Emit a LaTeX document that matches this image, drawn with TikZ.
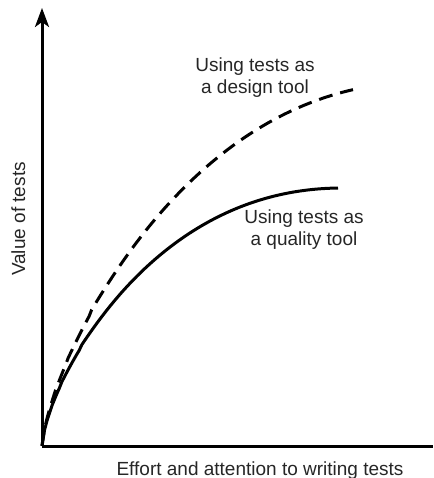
\documentclass[tikz,border=0pt]{standalone}
\usepackage{fontspec}
\setmainfont{Liberation Sans}
\usetikzlibrary{arrows.meta,positioning}

\begin{document}
\begin{tikzpicture}[x=1pt,y=1pt,
						every node/.style = {font=\fontsize{19}{22}\selectfont, text=black!85, inner sep=0pt},
						axis/.style = {line width=3pt},
						curve/.style = {line width=3pt, samples=120},
						declare function = {
							design(\x) = 364*sin(90*(\x/380)^0.7);
							quality(\x) = 258*sin(90*(\x/300)^0.68);
						}]

					\useasboundingbox (-42,-32) rectangle (391,446);

					\coordinate (O) at (0,0);
					\coordinate (ytip) at (0,438);
					\coordinate (xend) at (391,0);

					\draw[axis,-{Stealth[length=19pt,width=14pt,inset=5pt]}] (O) -- (ytip);
					\draw[axis] (O) -- (xend);

					\node[anchor=base] (xlabel) at (218,-29) {Effort and attention to writing tests};
					\node[anchor=base,rotate=90] (ylabel) at (-17,227) {Value of tests};

					\draw[curve,dash pattern=on 14pt off 8pt,domain=0.01:311,variable=\x] (O) -- plot (\x,{design(\x)});
					\draw[curve,domain=0.01:296,variable=\x] (O) -- plot (\x,{quality(\x)});

					% base of a two-line node sits on its last line
					\node[anchor=base,align=center] (design) at (213,352) {Using tests as\\a design tool};
					\node[anchor=base,align=center] (quality) at (262,200) {Using tests as\\a quality tool};

				\end{tikzpicture}
\end{document}
